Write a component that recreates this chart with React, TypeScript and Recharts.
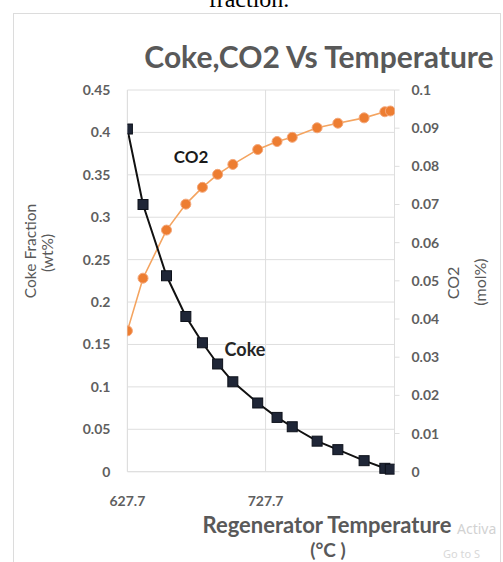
import React from 'react';
import { LineChart, Line, XAxis, YAxis, CartesianGrid } from 'recharts';

const temperature = [627.7, 639, 656, 670, 682, 693, 704, 722, 736, 747, 765, 780, 799, 814, 818];
const cokeFraction = [0.404, 0.315, 0.231, 0.183, 0.152, 0.127, 0.106, 0.081, 0.064, 0.053, 0.036, 0.026, 0.013, 0.004, 0.003];
const co2Mol = [0.0369, 0.0507, 0.0633, 0.0701, 0.0745, 0.0779, 0.0805, 0.0844, 0.0865, 0.0876, 0.0901, 0.0913, 0.0927, 0.0943, 0.0945];
const xTicks = [627.7, 727.7];
const leftTicks = [0, 0.05, 0.1, 0.15, 0.2, 0.25, 0.3, 0.35, 0.4, 0.45];
const rightTicks = [0, 0.01, 0.02, 0.03, 0.04, 0.05, 0.06, 0.07, 0.08, 0.09, 0.1];

const data = temperature.map((t, i) => ({ t, coke: cokeFraction[i], co2: co2Mol[i] }));

const FONT = 'Lato, "Open Sans", sans-serif';
const GRAY = '#595959';
const GRID = '#dedede';

const SquareDot = (props: any) => {
  const { cx, cy, index } = props;
  if (cx == null || cy == null) return null;
  return <rect key={`sq-${index}`} x={cx - 5} y={cy - 5} width={10} height={10} fill="#1f2637" stroke="#0d111a" strokeWidth={1} />;
};

const CircleDot = (props: any) => {
  const { cx, cy, index } = props;
  if (cx == null || cy == null) return null;
  return <circle key={`ci-${index}`} cx={cx} cy={cy} r={5} fill="#ED7D31" stroke="#F4A77A" strokeWidth={1} />;
};

const tickStyle = { fill: '#5f5f5f', fontSize: 14, fontWeight: 700, fontFamily: FONT };

export default function App() {
  return (
    <div style={{ position: 'absolute', left: 0, top: 0, width: 503, height: 562, background: '#fff', overflow: 'hidden' }}>
      <LineChart
        width={503}
        height={562}
        data={data}
        margin={{ top: 90, right: 48.5, bottom: 60.3, left: 67.4 }}
      >
        <CartesianGrid yAxisId="left" stroke={GRID} strokeWidth={1} horizontal={true} vertical={true} />
        <XAxis
          dataKey="t"
          type="number"
          domain={[627.7, 821]}
          ticks={xTicks}
          tickFormatter={(v: number) => v.toFixed(1)}
          tick={tickStyle}
          axisLine={{ stroke: GRID }}
          tickLine={false}
          tickSize={6}
          tickMargin={18}
          height={30}
          allowDataOverflow
        />
        <YAxis
          yAxisId="left"
          domain={[0, 0.45]}
          ticks={leftTicks}
          tick={tickStyle}
          axisLine={{ stroke: GRID }}
          tickLine={false}
          tickSize={6}
          tickMargin={11}
          width={60}
          interval={0}
        />
        <YAxis
          yAxisId="right"
          orientation="right"
          domain={[0, 0.1]}
          ticks={rightTicks}
          tick={tickStyle}
          axisLine={{ stroke: GRID }}
          tickLine={{ stroke: GRID }}
          tickSize={5}
          tickMargin={12}
          width={60}
          interval={0}
        />
        <Line
          yAxisId="right"
          dataKey="co2"
          stroke="#F4A460"
          strokeWidth={1.6}
          dot={CircleDot}
          isAnimationActive={false}
        />
        <Line
          yAxisId="left"
          dataKey="coke"
          stroke="#111111"
          strokeWidth={2}
          dot={SquareDot}
          isAnimationActive={false}
        />
      </LineChart>
      <svg width={503} height={562} style={{ position: 'absolute', left: 0, top: 0, pointerEvents: 'none' }}>
        <rect x={13.5} y={13.5} width={487} height={600} fill="none" stroke="#dcdcdc" strokeWidth={1} />
        <text x={249} y={7} textAnchor="middle" fontFamily='"Liberation Serif", serif' fontSize={24} fill="#000">fraction.</text>
        <text x={319} y={68} textAnchor="middle" fontFamily={FONT} fontWeight={700} fontSize={30} fill={GRAY}>Coke,CO2 Vs Temperature</text>
        <text x={191} y={163} textAnchor="middle" fontFamily={FONT} fontWeight={700} fontSize={17} fill="#1a1a1a">CO2</text>
        <text x={245} y={356} textAnchor="middle" fontFamily={FONT} fontWeight={700} fontSize={18} fill="#262626">Coke</text>
        <text transform="translate(36,251) rotate(-90)" textAnchor="middle" fontFamily={FONT} fontSize={15.5} fill={GRAY}>Coke  Fraction</text>
        <text transform="translate(53,253) rotate(-90)" textAnchor="middle" fontFamily={FONT} fontSize={15.5} fill={GRAY}>(wt%)</text>
        <text transform="translate(459,283) rotate(-90)" textAnchor="middle" fontFamily={FONT} fontSize={16} fill={GRAY}>CO2</text>
        <text transform="translate(486,282) rotate(-90)" textAnchor="middle" fontFamily={FONT} fontSize={16} fill={GRAY}>(mol%)</text>
        <text x={327} y={533} textAnchor="middle" fontFamily={FONT} fontWeight={700} fontSize={22} fill={GRAY}>Regenerator Temperature</text>
        <text x={328} y={557} textAnchor="middle" fontFamily={FONT} fontWeight={700} fontSize={19} fill={GRAY}>(°C )</text>
        <text x={457} y={534} fontFamily='"Noto Sans", sans-serif' fontSize={14} fill="#d2d2d2">Activa</text>
        <text x={443} y={558} fontFamily='"Noto Sans", sans-serif' fontSize={11} fill="#d8d8d8">Go to S</text>
      </svg>
    </div>
  );
}
